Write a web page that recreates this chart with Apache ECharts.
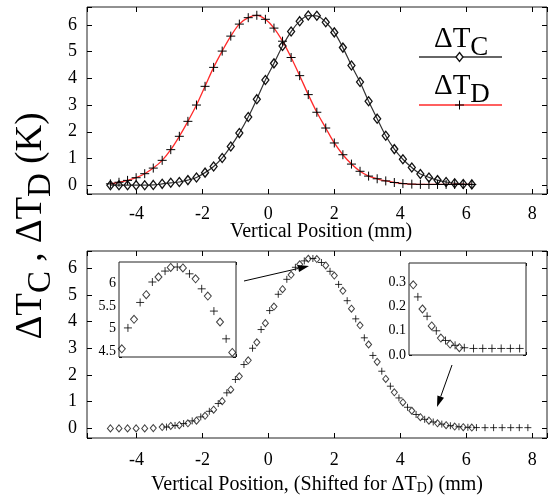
<!DOCTYPE html>
<html><head><meta charset="utf-8">
<script src="https://cdn.jsdelivr.net/npm/echarts@6/dist/echarts.min.js"></script>
<style>html,body{margin:0;padding:0;background:#fff}#c{width:549px;height:495px}</style>
</head><body><div id="c"></div>
<script>
// ---- data ----
const positions = [-4.79,-4.53,-4.27,-4.01,-3.75,-3.49,-3.22,-2.96,-2.70,-2.44,-2.18,-1.92,-1.66,-1.40,-1.14,-0.88,-0.61,-0.35,-0.09,0.17,0.43,0.69,0.95,1.21,1.47,1.74,2.00,2.26,2.52,2.78,3.04,3.30,3.56,3.82,4.08,4.35,4.61,4.87,5.13,5.39,5.65,5.91,6.17];
const deltaTC = [0.0,0.0,0.0,0.0,0.0,0.01,0.05,0.09,0.12,0.19,0.29,0.47,0.70,1.02,1.45,1.95,2.55,3.22,3.94,4.56,5.21,5.75,6.14,6.35,6.34,6.10,5.72,5.15,4.48,3.86,3.14,2.49,1.85,1.35,0.97,0.66,0.42,0.29,0.19,0.12,0.07,0.045,0.03];
const deltaTD = [0.05,0.11,0.18,0.28,0.43,0.64,0.93,1.33,1.83,2.39,3.00,3.70,4.41,5.02,5.58,6.03,6.27,6.36,6.21,5.88,5.39,4.78,4.10,3.39,2.73,2.14,1.58,1.14,0.79,0.52,0.34,0.24,0.16,0.10,0.06,0.04,0.03,0.027,0.027,0.027,0.027,0.027,0.027];
const shiftD = 1.70;
const mainXTicks = [-4,-2,0,2,4,6,8];
const mainYTicks = [0,1,2,3,4,5,6];
const leftInsetYTicks = [4.5,5,5.5,6];
const rightInsetYTicks = [0.0,0.1,0.2,0.3];

// ---- build ----
const FONT = 'Liberation Serif';
const PLUS = 'path://M0,5L10,5M5,0L5,10';
const near = (arr, v) => arr.find(t => Math.abs(t - v) < 1e-6);

const dataC = positions.map((x, i) => [x, deltaTC[i]]);
const dataD = positions.map((x, i) => [x, deltaTD[i]]);
const dataDShift = positions.map((x, i) => [+(x + shiftD).toFixed(3), deltaTD[i]]);

function axisPair(kind, grid, min, max, opt) {
  const base = {
    type: 'value', gridIndex: grid, min: min, max: max,
    axisLine: {show: false, onZero: false}, splitLine: {show: false},
    axisTick: {show: true, inside: true, length: opt.tickLen, lineStyle: {color: '#000', width: 1}},
  };
  if (opt.interval) base.interval = opt.interval;
  if (opt.splitNumber) base.splitNumber = opt.splitNumber;
  const a = Object.assign({}, base, {
    position: kind === 'x' ? 'bottom' : 'left',
    axisLabel: opt.labels ? {
      show: true, fontFamily: FONT, fontSize: opt.fontSize, color: '#000', margin: opt.margin,
      showMinLabel: true, showMaxLabel: true, hideOverlap: false,
      formatter: v => { const t = near(opt.labels, v); return t === undefined ? '' : (opt.fmt ? opt.fmt(t) : String(t)); }
    } : {show: false}
  });
  const b = Object.assign({}, base, {position: kind === 'x' ? 'top' : 'right', axisLabel: {show: false}});
  return [a, b];
}

const xAxes = [].concat(
  axisPair('x', 0, -5.5, 8.45, {splitNumber: 7, tickLen: 5, labels: mainXTicks, fontSize: 18, margin: 11}),
  axisPair('x', 1, -5.5, 8.45, {splitNumber: 7, tickLen: 5, labels: mainXTicks, fontSize: 18, margin: 13}),
  axisPair('x', 2, 0.11, 2.60, {splitNumber: 5, tickLen: 3}),
  axisPair('x', 3, 4.75, 8.05, {interval: 0.25, tickLen: 3})
);
const yAxes = [].concat(
  axisPair('y', 0, -0.33, 6.67, {splitNumber: 7, tickLen: 5, labels: mainYTicks, fontSize: 18, margin: 10}),
  axisPair('y', 1, -0.36, 6.64, {splitNumber: 7, tickLen: 5, labels: mainYTicks, fontSize: 18, margin: 10}),
  axisPair('y', 2, 4.38, 6.47, {splitNumber: 4, tickLen: 3, labels: leftInsetYTicks, fontSize: 14, margin: 3}),
  axisPair('y', 3, 0, 0.38, {interval: 0.1, tickLen: 3, labels: rightInsetYTicks, fontSize: 14, margin: 3, fmt: t => t.toFixed(1)})
);

const gridStyle = {show: true, borderColor: '#222', borderWidth: 1, backgroundColor: '#fff', containLabel: false, outerBoundsMode: 'none'};
const grids = [
  Object.assign({left: 87, top: 7, width: 460, height: 187}, gridStyle),
  Object.assign({left: 87, top: 251, width: 460, height: 187}, gridStyle),
  Object.assign({left: 119, top: 262, width: 117, height: 95, z: 5}, gridStyle),
  Object.assign({left: 409, top: 263, width: 117, height: 92, z: 5}, gridStyle)
];

const diamondStyle = (bw) => ({color: 'rgba(0,0,0,0)', borderColor: '#111', borderWidth: bw});
const plusStyle = {color: 'rgba(0,0,0,0)', borderColor: '#000', borderWidth: 1};

const series = [
  {type: 'line', name: 'ΔTC', xAxisIndex: 0, yAxisIndex: 0, data: dataC, smooth: 0.35,
   symbol: 'diamond', symbolSize: [7, 9], showAllSymbol: true, itemStyle: diamondStyle(1.3),
   lineStyle: {color: '#333', width: 1.2}},
  {type: 'line', name: 'ΔTD', xAxisIndex: 0, yAxisIndex: 0, data: dataD, smooth: 0.35,
   symbol: PLUS, symbolSize: 9, showAllSymbol: true, itemStyle: plusStyle,
   lineStyle: {color: '#ff2a2a', width: 1.3}},
  {type: 'scatter', xAxisIndex: 2, yAxisIndex: 2, data: dataC, symbol: 'diamond', symbolSize: [6, 7], itemStyle: diamondStyle(1)},
  {type: 'scatter', xAxisIndex: 2, yAxisIndex: 2, data: dataDShift, symbol: PLUS, symbolSize: 7, itemStyle: plusStyle},
  {type: 'scatter', xAxisIndex: 4, yAxisIndex: 4, data: dataC, symbol: 'diamond', symbolSize: [7, 8], itemStyle: diamondStyle(1), z: 6},
  {type: 'scatter', xAxisIndex: 4, yAxisIndex: 4, data: dataDShift, symbol: PLUS, symbolSize: 8, itemStyle: plusStyle, z: 6},
  {type: 'scatter', xAxisIndex: 6, yAxisIndex: 6, data: dataC, symbol: 'diamond', symbolSize: [7, 8], itemStyle: diamondStyle(1), z: 6},
  {type: 'scatter', xAxisIndex: 6, yAxisIndex: 6, data: dataDShift, symbol: PLUS, symbolSize: 8, itemStyle: plusStyle, z: 6}
];
series.forEach(s => { s.silent = true; s.animation = false; s.emphasis = {disabled: true}; s.clip = true; });

function richText(id, x, y, text, rich, align, vAlign, rotation) {
  return {type: 'text', id: id, x: x, y: y, rotation: rotation || 0, silent: true, z: 100,
    style: {text: text, rich: rich, align: align, verticalAlign: vAlign, textAlign: align, textVerticalAlign: vAlign, fill: '#000', font: '20px "' + FONT + '"'}};
}
const big = (fs, sub, drop) => ({
  m: {fontFamily: FONT, fontSize: fs, lineHeight: fs, verticalAlign: 'top', color: '#000'},
  s: {fontFamily: FONT, fontSize: sub, lineHeight: fs, verticalAlign: 'top', padding: [drop, 0, 0, 0], color: '#000'}
});

function arrow(id, x1, y1, x2, y2) {
  const dx = x2 - x1, dy = y2 - y1, L = Math.hypot(dx, dy), ux = dx / L, uy = dy / L;
  const hl = 11, hw = 3.5;
  const bx = x2 - ux * hl, by = y2 - uy * hl;
  return [
    {type: 'line', id: id + 'l', silent: true, z: 100, shape: {x1: x1, y1: y1, x2: bx, y2: by}, style: {stroke: '#000', lineWidth: 1}},
    {type: 'polygon', id: id + 'h', silent: true, z: 100, shape: {points: [[x2, y2], [bx - uy * hw, by + ux * hw], [bx + uy * hw, by - ux * hw]]}, style: {fill: '#000'}}
  ];
}

const graphics = [
  richText('ytitle', 31, 226, '{m|ΔT}{s|C}{m| , ΔT}{s|D}{m| (K)}', big(37, 33, 12), 'center', 'middle', Math.PI / 2),
  richText('leg1', 434, 39, '{m|ΔT}{s|C}', big(29, 27, 10), 'left', 'middle'),
  richText('leg2', 434, 86, '{m|ΔT}{s|D}', big(29, 27, 10), 'left', 'middle'),
  {type: 'line', id: 'legl1', silent: true, z: 99, shape: {x1: 419, y1: 57, x2: 502, y2: 57}, style: {stroke: '#333', lineWidth: 1.5}},
  {type: 'line', id: 'legl2', silent: true, z: 99, shape: {x1: 419, y1: 105, x2: 502, y2: 105}, style: {stroke: '#ff2a2a', lineWidth: 1.5}},
  {type: 'polygon', id: 'legd', silent: true, z: 100, shape: {points: [[459.5, 52.5], [463, 57], [459.5, 61.5], [456, 57]]}, style: {fill: '#fff', stroke: '#111', lineWidth: 1.3}},
  {type: 'polyline', id: 'legp1', silent: true, z: 100, shape: {points: [[455, 105], [464, 105]]}, style: {stroke: '#000', lineWidth: 1}},
  {type: 'polyline', id: 'legp2', silent: true, z: 100, shape: {points: [[459.5, 100.5], [459.5, 109.5]]}, style: {stroke: '#000', lineWidth: 1}},
  richText('xt1', 321, 232, '{m|Vertical Position (mm)}', big(20, 14, 6), 'center', 'middle'),
  richText('xt2', 317, 485, '{m|Vertical Position, (Shifted for ΔT}{s|D}{m|) (mm)}', big(20, 14, 6), 'center', 'middle')
].concat(arrow('a1', 244, 281, 309, 266), arrow('a2', 452, 365, 437, 407));

const chart = echarts.init(document.getElementById('c'), null, {renderer: 'canvas'});
chart.setOption({
  animation: false,
  backgroundColor: '#fff',
  grid: grids, xAxis: xAxes, yAxis: yAxes, series: series, graphic: graphics
});
</script></body></html>
